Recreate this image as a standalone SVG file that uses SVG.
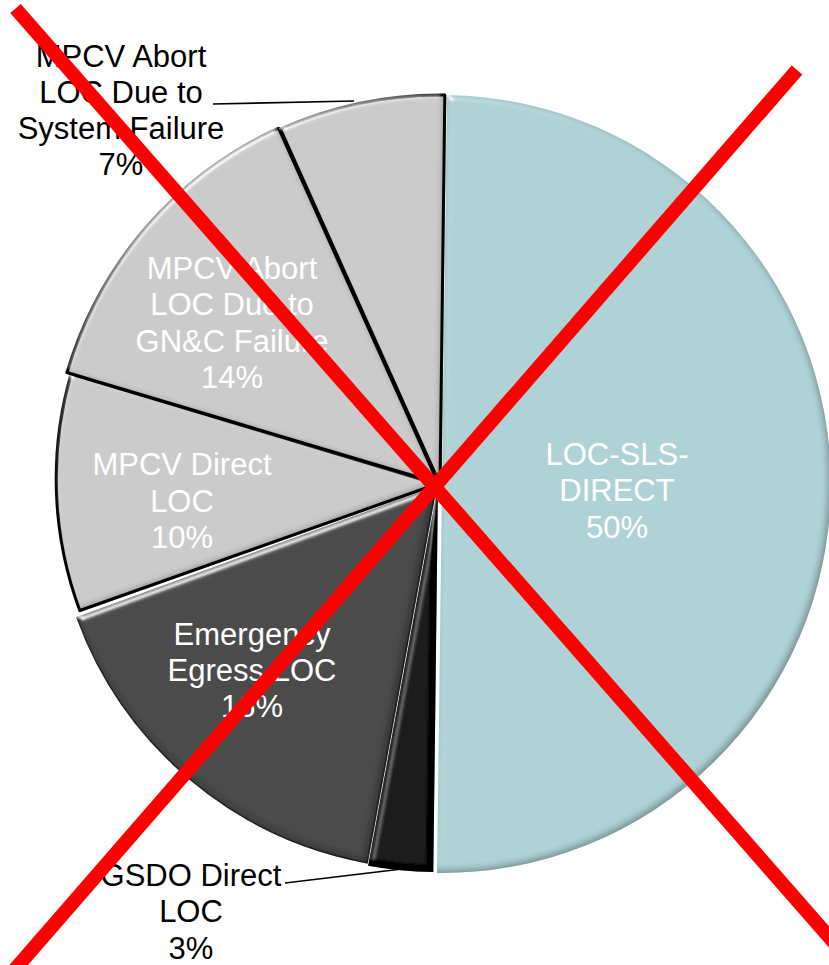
<svg xmlns="http://www.w3.org/2000/svg" width="829" height="965" viewBox="0 0 829 965">
<style>
.lbl{font-family:"Liberation Sans",Arial,sans-serif;font-size:31px;text-anchor:middle}
.w{fill:#ffffff}
.k{fill:#000000}
.grey{fill:#cbcbcb;stroke:#111;stroke-width:3;stroke-linejoin:round}
.lead{fill:none;stroke:#000;stroke-width:1.6}
.cross{stroke:#ff0000;stroke-width:14;stroke-linecap:butt}
</style>
<defs>
<filter id="bev" x="-5%" y="-5%" width="110%" height="110%">
<feGaussianBlur in="SourceAlpha" stdDeviation="3" result="blur"/>
<feSpecularLighting in="blur" surfaceScale="3" specularConstant="0.9" specularExponent="45" lighting-color="#ffffff" result="spec">
<feDistantLight azimuth="235" elevation="40"/>
</feSpecularLighting>
<feComposite in="spec" in2="SourceAlpha" operator="in" result="specIn"/>
<feComponentTransfer in="SourceAlpha" result="inv"><feFuncA type="table" tableValues="1 0"/></feComponentTransfer>
<feGaussianBlur in="inv" stdDeviation="3" result="invb"/>
<feOffset in="invb" dx="-3" dy="-3" result="invo"/>
<feFlood flood-color="#000" flood-opacity="0.55"/>
<feComposite in2="invo" operator="in" result="sh"/>
<feComposite in="sh" in2="SourceAlpha" operator="in" result="shIn"/>
<feMerge><feMergeNode in="SourceGraphic"/><feMergeNode in="shIn"/><feMergeNode in="specIn"/></feMerge>
</filter>
</defs>
<rect width="829" height="965" fill="#ffffff"/>

<g id="slice-loc-sls-direct">
<path d="M442,484 L447,95 A389,389 0 0,1 437,873 Z" fill="#aed2d6" filter="url(#bev)"/>
<text class="lbl w" x="617" y="465">LOC-SLS-</text>
<text class="lbl w" x="617" y="501">DIRECT</text>
<text class="lbl w" x="617" y="538">50%</text>
</g>

<g id="slice-gsdo-direct">
<path d="M438,485 L433.3,872 A387,387 0 0,1 368.1,865.7 Z" fill="#060606" filter="url(#bev)"/>
</g>

<g id="slice-emergency-egress">
<path d="M436,487 L367.1,862.7 A382,382 0 0,1 77,617.6 Z" fill="#474747" stroke="#2a2a2a" stroke-width="1.5" filter="url(#bev)"/>
<text class="lbl w" x="252" y="645">Emergency</text>
<text class="lbl w" x="252" y="681">Egress LOC</text>
<text class="lbl w" x="252" y="717">16%</text>
</g>

<g id="slice-mpcv-direct">
<path class="grey" d="M437,484 L79.8,610.5 A379,379 0 0,1 71,374 Z" filter="url(#bev)"/>
<text class="lbl w" x="182" y="475">MPCV Direct</text>
<text class="lbl w" x="182" y="512">LOC</text>
<text class="lbl w" x="182" y="548">10%</text>
</g>

<g id="slice-mpcv-abort-gnc">
<path class="grey" d="M438,483 L67,372.5 A389,389 0 0,1 278.5,128.2 Z" filter="url(#bev)"/>
<text class="lbl w" x="232" y="279">MPCV Abort</text>
<text class="lbl w" x="232" y="315">LOC Due to</text>
<text class="lbl w" x="232" y="352">GN&amp;C Failure</text>
<text class="lbl w" x="232" y="388">14%</text>
</g>

<g id="slice-mpcv-abort-system">
<path class="grey" d="M440,484 L280.5,129.2 A389,389 0 0,1 444.8,95 Z" filter="url(#bev)"/>
</g>

<g id="connectors">
<polyline class="lead" points="213,104 354,101"/>
<polyline class="lead" points="285,883 402,869"/>
</g>

<g id="label-mpcv-abort-system">
<text class="lbl k" x="121" y="67">MPCV Abort</text>
<text class="lbl k" x="121" y="103">LOC Due to</text>
<text class="lbl k" x="121" y="139">System Failure</text>
<text class="lbl k" x="121" y="175">7%</text>
</g>

<g id="label-gsdo-direct">
<text class="lbl k" x="191" y="886">GSDO Direct</text>
<text class="lbl k" x="191" y="922">LOC</text>
<text class="lbl k" x="191" y="959">3%</text>
</g>

<g id="cross">
<line class="cross" x1="15.5" y1="8.5" x2="852" y2="963"/>
<line class="cross" x1="797" y1="70" x2="10" y2="975"/>
</g>
</svg>
